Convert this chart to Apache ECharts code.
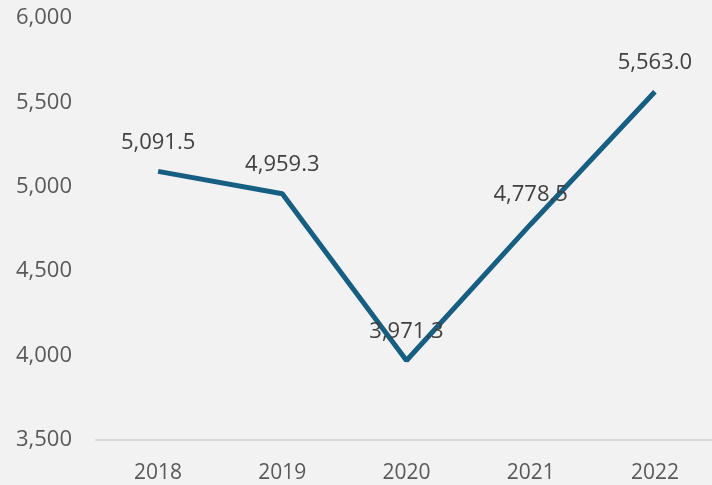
<!DOCTYPE html>
<html>
<head>
<meta charset="utf-8">
<script src="https://cdn.jsdelivr.net/npm/echarts@6/dist/echarts.min.js"></script>
<style>
html,body{margin:0;padding:0;background:#f2f2f2;}
#c{width:712px;height:485px;}
</style>
</head>
<body>
<div id="c"></div>
<script>
const categories = ['2018', '2019', '2020', '2021', '2022'];
const values = [5091.5, 4959.3, 3971.3, 4778.5, 5563.0];
const yTicks = [3500, 4000, 4500, 5000, 5500, 6000];

const FONT = 'Open Sans';
const chart = echarts.init(document.getElementById('c'));
const fmt = v => v.toLocaleString('en-US', {minimumFractionDigits: 0, maximumFractionDigits: 0});
chart.setOption({
  backgroundColor: '#f2f2f2',
  animation: false,
  grid: {left: 96, width: 621, top: 18, bottom: 45, outerBoundsMode: 'none', containLabel: false},
  xAxis: {
    type: 'category',
    data: categories,
    boundaryGap: true,
    axisLine: {show: true, lineStyle: {color: '#d9d9d9', width: 2}},
    axisTick: {show: false},
    axisLabel: {color: '#595959', fontSize: 21, fontFamily: FONT, margin: 23}
  },
  yAxis: {
    type: 'value',
    min: yTicks[0],
    max: yTicks[yTicks.length - 1],
    interval: 500,
    splitLine: {show: false},
    axisLine: {show: false},
    axisTick: {show: false},
    axisLabel: {color: '#595959', fontSize: 22, fontFamily: FONT, margin: 24, formatter: fmt}
  },
  series: [{
    type: 'line',
    data: values,
    symbol: 'circle',
    symbolSize: 2,
    showSymbol: true,
    showAllSymbol: true,
    itemStyle: {color: 'transparent', borderWidth: 0},
    lineStyle: {color: '#175f82', width: 5},
    label: {
      show: true,
      position: 'top',
      distance: 17,
      color: '#404040',
      fontSize: 22,
      fontFamily: FONT,
      formatter: p => p.value.toLocaleString('en-US', {minimumFractionDigits: 1, maximumFractionDigits: 1})
    },
    z: 3
  }]
});
</script>
</body>
</html>
